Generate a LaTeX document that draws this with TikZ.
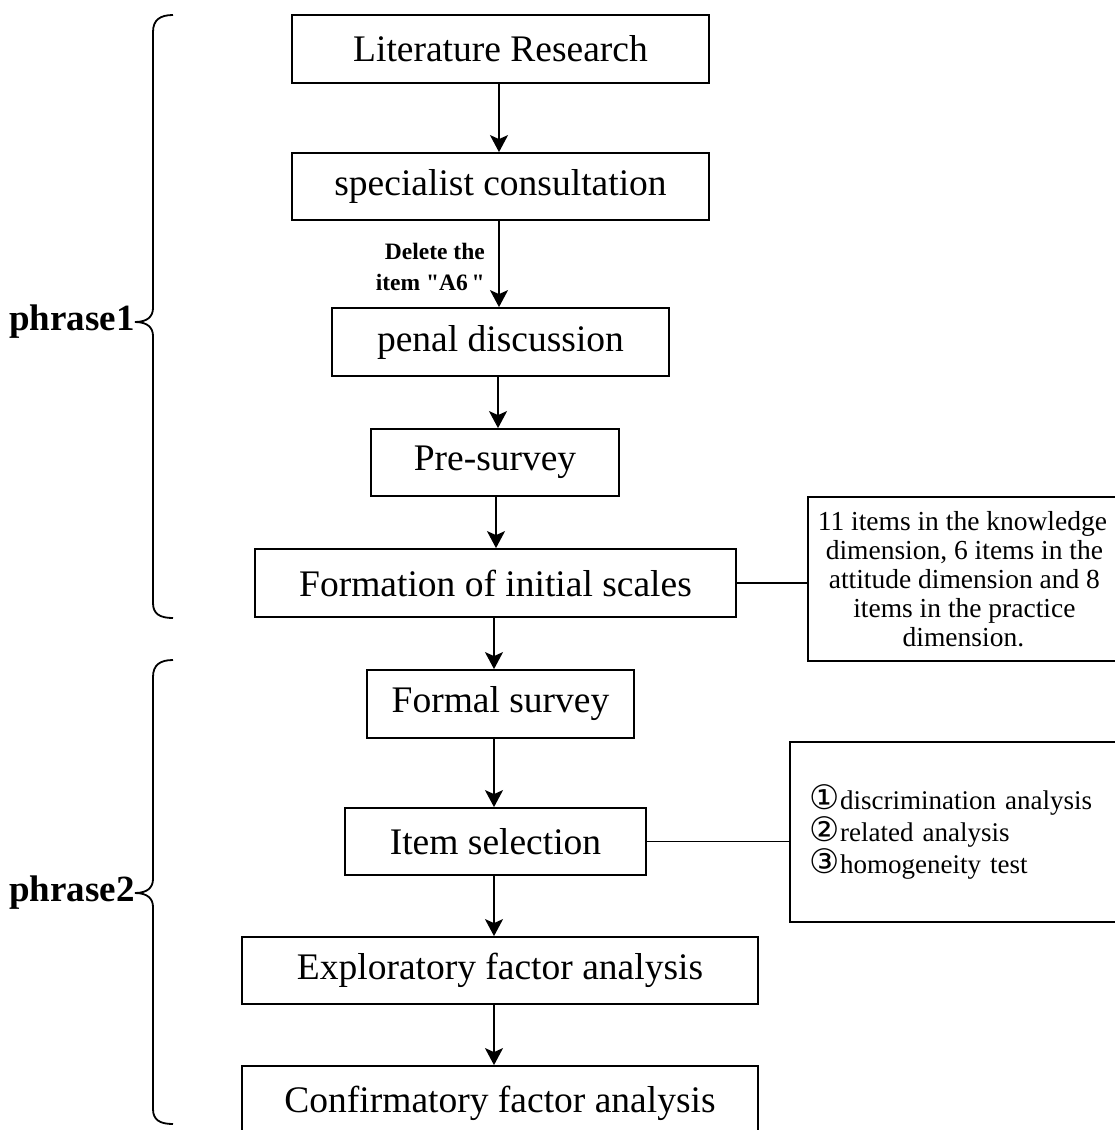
\documentclass[tikz,border=0pt]{standalone}
\usepackage{fontspec}
\setmainfont{Liberation Serif}
\newfontfamily\circfont[Scale=1.25]{DejaVu Sans}
\newcommand\straightq{\XeTeXglyph\XeTeXcharglyph"22\relax}
\usetikzlibrary{arrows.meta}
\begin{document}
\begin{tikzpicture}[x=1pt,y=-1pt,
  box/.style={draw, line width=1.8pt, inner sep=0pt, font=\fontsize{37.5}{45}\selectfont},
  notebox/.style={draw, line width=1.8pt, inner sep=0pt},
  arr/.style={line width=1.8pt, -{Stealth[length=17pt,width=18pt,inset=4pt]}},
  link/.style={line width=1.8pt},
  brace/.style={line width=1.8pt},
  phase/.style={inner sep=0pt, font=\fontsize{37}{44}\selectfont\bfseries}]
\useasboundingbox (0,0) rectangle (1115,1130);
\clip (0,0) rectangle (1115,1130);

% main boxes
\node[box, minimum width=417pt, minimum height=68pt] (lit) at (500.5,49) {Literature Research};
\node[box, minimum width=417pt, minimum height=67pt] (spec) at (500.5,186.5) {specialist consultation};
\node[box, minimum width=337pt, minimum height=68pt] (pen) at (500.5,342) {penal discussion};
\node[box, minimum width=248pt, minimum height=67pt] (pre) at (495,462.5) {Pre-survey};
\node[box, minimum width=481pt, minimum height=68pt] (form) at (495.5,583) {Formation of initial scales};
\node[box, minimum width=267pt, minimum height=68pt] (formal) at (500.5,704) {Formal survey};
\node[box, minimum width=301pt, minimum height=67pt] (item) at (495.5,841.5) {Item selection};
\node[box, minimum width=516pt, minimum height=67pt] (expl) at (500,970.5) {Exploratory factor analysis};
\node[box, minimum width=516pt, minimum height=70pt, text depth=0pt] (conf) at (500,1101) {\raisebox{4pt}{Confirmatory factor analysis}};

% side notes
\node[notebox, minimum width=313pt, minimum height=164pt, anchor=west,
      align=center, font=\fontsize{27.5}{29}\selectfont] (note1) at (807,579)
  {\hspace*{-4pt}11 items in the knowledge\\dimension, 6 items in the\\attitude dimension and 8\\items in the practice\\dimension.\hspace*{2pt}};
\node[notebox, minimum width=331pt, minimum height=180pt, anchor=west,
      text width=305pt, inner xsep=20pt, align=left, font=\fontsize{27}{28.5}\selectfont] (note2) at (789,832)
  {{\circfont ①}discrimination analysis\\{\circfont ②}related analysis\\{\circfont ③}homogeneity test};

% label on arrow
\node[anchor=east, align=right, inner sep=0pt, font=\fontsize{23.5}{31}\selectfont\bfseries] (del) at (485,267)
  {Delete the\\item \straightq A6\,\straightq};

% named x positions for arrows
\coordinate (xa) at (499,0);
\coordinate (xb) at (498,0);
\coordinate (xc) at (496,0);
\coordinate (xd) at (494,0);

\draw[arr] (lit.south -| xa) -- (spec.north -| xa);
\draw[arr] (spec.south -| xa) -- (pen.north -| xa);
\draw[arr] (pen.south -| xb) -- (pre.north -| xb);
\draw[arr] (pre.south -| xc) -- (form.north -| xc);
\draw[arr] (form.south -| xd) -- (formal.north -| xd);
\draw[arr] (formal.south -| xd) -- (item.north -| xd);
\draw[arr] (item.south -| xd) -- (expl.north -| xd);
\draw[arr] (expl.south -| xd) -- (conf.north -| xd);

\draw[link] (form.east) -- (form.east -| note1.west);
\draw[link] (item.east) -- (item.east -| note2.west);

% phases
\node[phase] (ph1) at (72,322) {phrase1};
\node[phase] (ph2) at (72,893) {phrase2};

\draw[brace] (173,15) .. controls (160,15) and (153,20) .. (153,32) -- (153,308)
  .. controls (153,316) and (148,322) .. (ph1.east) .. controls (148,322) and (153,328) .. (153,336)
  -- (153,603) .. controls (153,614) and (160,618) .. (173,618);
\draw[brace] (173,660) .. controls (160,660) and (153,665) .. (153,677) -- (153,879)
  .. controls (153,887) and (148,893) .. (ph2.east) .. controls (148,893) and (153,899) .. (153,907)
  -- (153,1109) .. controls (153,1120) and (160,1124) .. (173,1124);
\end{tikzpicture}
\end{document}
